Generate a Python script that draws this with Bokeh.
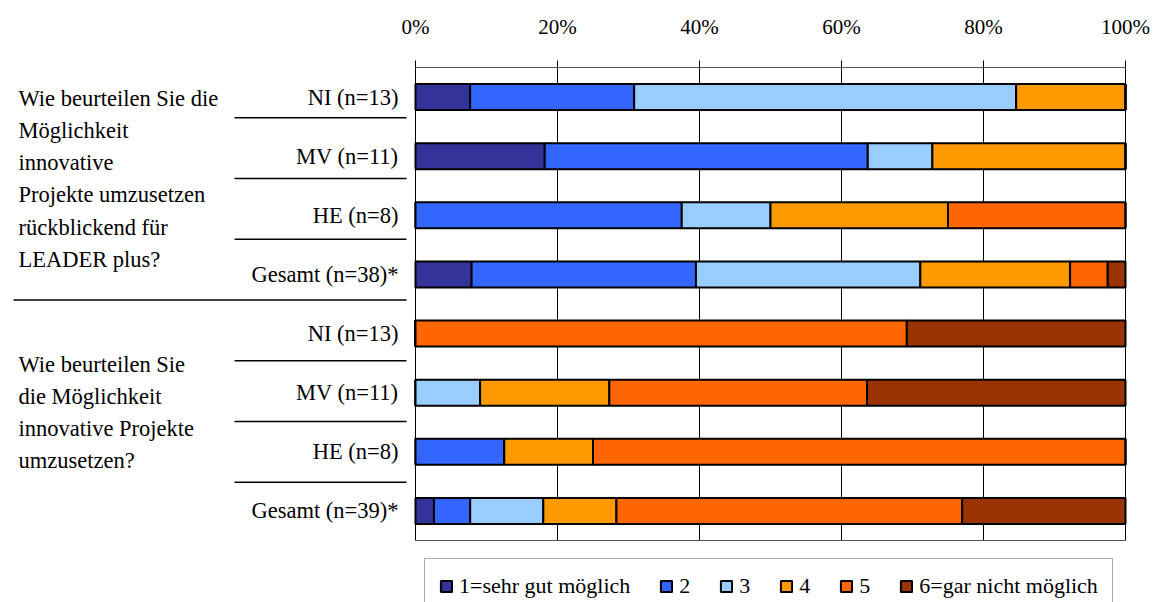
from bokeh.plotting import figure
from bokeh.models import (ColumnDataSource, Range1d, FixedTicker, PrintfTickFormatter,
                          Legend, LegendItem)
from bokeh.core.properties import value
from bokeh.embed import file_html
from bokeh.resources import INLINE

FONT = "'Liberation Serif'"
AXIS_FONT_SIZE = "21px"
LABEL_FONT_SIZE = "22.5px"
LEGEND_FONT_SIZE = "22px"

# answer scale and colours
answers = ["1=sehr gut möglich", "2", "3", "4", "5", "6=gar nicht möglich"]
colors = ["#333399", "#3366FF", "#99CCFF", "#FF9900", "#FF6600", "#993300"]

# rows from top to bottom
rows = ["NI (n=13)", "MV (n=11)", "HE (n=8)", "Gesamt (n=38)*",
        "NI (n=13)", "MV (n=11)", "HE (n=8)", "Gesamt (n=39)*"]

questions = [
    "Wie beurteilen Sie die\nMöglichkeit\ninnovative\nProjekte umzusetzen\nrückblickend für\nLEADER plus?",
    "Wie beurteilen Sie\ndie Möglichkeit\ninnovative Projekte\numzusetzen?",
]

# share of answers in percent, one list per answer, rows top to bottom
a1 = [7.7, 18.2, 0.0, 7.9, 0.0, 0.0, 0.0, 2.6]
a2 = [23.1, 45.5, 37.5, 31.6, 0.0, 0.0, 12.5, 5.1]
a3 = [53.8, 9.1, 12.5, 31.6, 0.0, 9.1, 0.0, 10.3]
a4 = [15.4, 27.2, 25.0, 21.1, 0.0, 18.2, 12.5, 10.3]
a5 = [0.0, 0.0, 25.0, 5.3, 69.2, 36.3, 75.0, 48.7]
a6 = [0.0, 0.0, 0.0, 2.5, 30.8, 36.4, 0.0, 23.0]

tick_values = [0, 20, 40, 60, 80, 100]

# page geometry (pixels)
W, H = 1154, 602
PLOT_LEFT, PLOT_RIGHT = 415, 1125
PLOT_TOP, PLOT_BOTTOM = 67, 540
PX_PER_PCT = (PLOT_RIGHT - PLOT_LEFT) / 100.0
ROW_PX = (PLOT_BOTTOM - PLOT_TOP) / len(rows)
N = len(rows)


def x_at(px):
    """x data value for a horizontal pixel position"""
    return (px - PLOT_LEFT) / PX_PER_PCT


def y_at(px):
    """row coordinate for a vertical pixel position"""
    return (px - PLOT_TOP) / ROW_PX


keys = ["a1", "a2", "a3", "a4", "a5", "a6"]
row_y = [i + 0.5 for i in range(N)]
src = ColumnDataSource(dict(y=row_y, a1=a1, a2=a2, a3=a3, a4=a4, a5=a5, a6=a6))

# the frame spans the whole page below the percentage axis, so that the
# row labels, question texts and the legend can be drawn inside it
p = figure(width=W, height=H,
           x_range=Range1d(x_at(0), x_at(W)), y_range=Range1d(y_at(H), 0),
           x_axis_location="above", y_axis_location=None,
           output_backend="svg", toolbar_location=None,
           min_border_left=0, min_border_right=0,
           min_border_top=PLOT_TOP, min_border_bottom=0,
           background_fill_color="white", border_fill_color="white")
p.outline_line_color = None
p.xgrid.visible = False
p.ygrid.visible = False

# vertical grid lines and the left axis line
p.segment(x0=tick_values, y0=[0] * len(tick_values), x1=tick_values,
          y1=[N] * len(tick_values), line_color="black", line_width=1)
# bottom edge of the plot area
p.segment(x0=[0], y0=[N], x1=[100], y1=[N], line_color="#555555", line_width=1)

bars = p.hbar_stack(keys, y="y", height=0.44, color=colors, line_color="black",
                    line_width=2, source=src)

# top percentage axis
ax = p.xaxis[0]
ax.bounds = (0, 100)
ax.ticker = FixedTicker(ticks=tick_values)
ax.formatter = PrintfTickFormatter(format="%d%%")
ax.major_tick_out = 7
ax.major_tick_in = 0
ax.major_tick_line_color = "black"
ax.minor_tick_line_color = None
ax.axis_line_color = "#555555"
ax.major_label_text_font = FONT
ax.major_label_text_font_size = AXIS_FONT_SIZE
ax.major_label_text_color = "black"
ax.major_label_standoff = 22

# row labels
p.text(x=[x_at(398)] * N, y=row_y, text=rows, text_align="right",
       text_baseline="middle", text_font=value(FONT),
       text_font_size=value(LABEL_FONT_SIZE), text_color="black")

# question texts
p.text(x=[x_at(18)] * 2, y=[y_at(85), y_at(351)], text=questions,
       text_align="left", text_baseline="top", text_line_height=1.29,
       text_font=value(FONT), text_font_size=value(LABEL_FONT_SIZE),
       text_color="black")

# separator lines of the category block
SEP_START, SEP_STEP = -0.18, 1.028
sep_y = [SEP_START + SEP_STEP * k for k in range(1, N)]
sep_x0 = [x_at(13) if k == N // 2 else x_at(234) for k in range(1, N)]
p.segment(x0=sep_x0, y0=sep_y, x1=[x_at(406)] * (N - 1), y1=sep_y,
          line_color="black", line_width=1.5)

leg = Legend(items=[LegendItem(label=a, renderers=[r]) for a, r in zip(answers, bars)])
leg.orientation = "horizontal"
leg.location = (424, -12)
leg.label_text_font = FONT
leg.label_text_font_size = LEGEND_FONT_SIZE
leg.label_text_color = "black"
leg.label_width = 0
leg.glyph_width = 14
leg.glyph_height = 14
leg.label_standoff = 6
leg.spacing = 29
leg.padding = 14
leg.margin = 0
leg.border_line_color = "#555555"
leg.border_line_width = 1
leg.background_fill_color = "white"
leg.background_fill_alpha = 1.0
p.add_layout(leg)

open("out.html", "w").write(file_html(p, INLINE))
